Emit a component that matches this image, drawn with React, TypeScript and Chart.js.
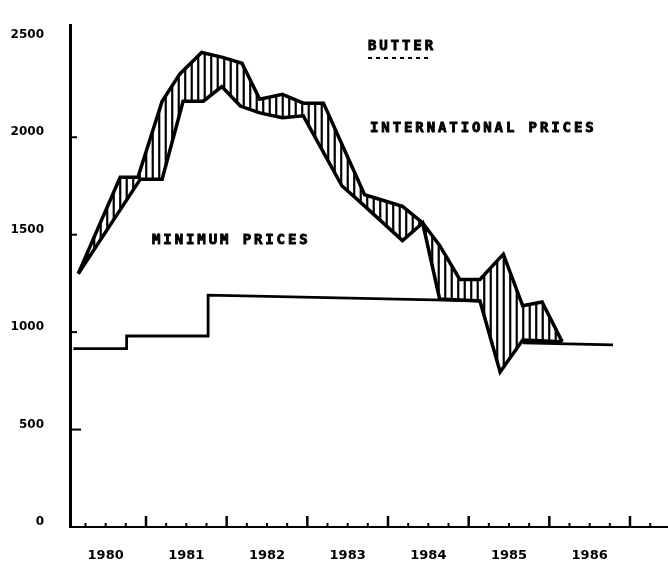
import React, { useEffect, useRef } from "react";
import { Chart, registerables } from "chart.js";

Chart.register(...registerables);

// International prices band: upper and lower bounds (US$/t)
const upperYears = [1980.16, 1980.68, 1980.9, 1981.2, 1981.42, 1981.69, 1981.95, 1982.19, 1982.41, 1982.69, 1982.95, 1983.2, 1983.71, 1984.18, 1984.43, 1984.64, 1984.89, 1985.14, 1985.43, 1985.67, 1985.91, 1986.16];
const upperPrices = [1300, 1795, 1795, 2185, 2325, 2435, 2410, 2380, 2195, 2220, 2175, 2175, 1705, 1645, 1560, 1445, 1270, 1270, 1400, 1135, 1155, 950];
const lowerYears = [1980.16, 1980.93, 1981.2, 1981.46, 1981.71, 1981.94, 1982.17, 1982.41, 1982.69, 1982.95, 1983.43, 1983.65, 1984.18, 1984.43, 1984.64, 1985.14, 1985.39, 1985.67, 1986.16];
const lowerPrices = [1300, 1785, 1785, 2185, 2185, 2260, 2160, 2125, 2100, 2110, 1750, 1670, 1470, 1560, 1170, 1160, 795, 960, 950];

// Minimum prices (step line); null = break
const minYears = [1980.1, 1980.76, 1980.76, 1981.77, 1981.77, 1985.15, 1985.4, 1985.67, 1986.79];
const minPrices: (number | null)[] = [915, 915, 980, 980, 1190, 1160, null, 945, 935];

const yTickValues = [0, 500, 1000, 1500, 2000, 2500];
const yearLabels = ["1980", "1981", "1982", "1983", "1984", "1985", "1986"];
const yearStart = 1980;
const yearEnd = 1987;

const titleText = "BUTTER";
const intlText = "INTERNATIONAL PRICES";
const minText = "MINIMUM PRICES";

function toPoints(xs: number[], ys: (number | null)[]) {
  return xs.map((x, i) => ({ x, y: ys[i] }));
}

function interp(pts: { x: number; y: number }[], x: number): number | null {
  for (let i = 0; i < pts.length - 1; i++) {
    const a = pts[i], b = pts[i + 1];
    if (x >= a.x && x <= b.x) {
      if (b.x === a.x) return a.y;
      return a.y + ((x - a.x) / (b.x - a.x)) * (b.y - a.y);
    }
  }
  return null;
}

const hatchPlugin = {
  id: "hatchBand",
  beforeDatasetsDraw(chart: any) {
    const ctx = chart.ctx;
    const up = chart.getDatasetMeta(0).data.map((p: any) => ({ x: p.x, y: p.y }));
    const lo = chart.getDatasetMeta(1).data.map((p: any) => ({ x: p.x, y: p.y }));
    const x0 = Math.max(up[0].x, lo[0].x);
    const x1 = Math.min(up[up.length - 1].x, lo[lo.length - 1].x);
    ctx.save();
    ctx.strokeStyle = "#000";
    ctx.lineWidth = 2.2;
    for (let x = x0 + 3; x < x1; x += 6.5) {
      const a = interp(up, x);
      const b = interp(lo, x);
      if (a == null || b == null) continue;
      if (Math.abs(a - b) < 2) continue;
      ctx.beginPath();
      ctx.moveTo(x, a);
      ctx.lineTo(x, b);
      ctx.stroke();
    }
    ctx.restore();
  },
};

function heavyText(ctx: any, text: string, x: number, y: number) {
  ctx.fillText(text, x, y);
  ctx.strokeText(text, x, y);
}

const decorPlugin = {
  id: "decor",
  afterDraw(chart: any) {
    const ctx = chart.ctx;
    const xs = chart.scales.x;
    const ys = chart.scales.y;
    const area = chart.chartArea;
    ctx.save();
    ctx.strokeStyle = "#000";
    ctx.fillStyle = "#000";
    // y-axis small ticks
    ctx.lineWidth = 2;
    yTickValues.forEach((v) => {
      if (v === 0 || v === 2500) return;
      const y = ys.getPixelForValue(v);
      ctx.beginPath();
      ctx.moveTo(area.left + 2, y);
      ctx.lineTo(area.left + (v === 500 ? 11 : 7), y);
      ctx.stroke();
    });
    // x-axis quarter / year ticks
    for (let q = yearStart + 0.25; q <= yearEnd + 0.3; q += 0.25) {
      const x = xs.getPixelForValue(q);
      if (x > area.right - 2) continue;
      const isYear = Math.abs(q - Math.round(q)) < 0.01;
      ctx.lineWidth = isYear ? 2.5 : 2;
      ctx.beginPath();
      ctx.moveTo(x, area.bottom);
      ctx.lineTo(x, area.bottom - (isYear ? 11 : 4));
      ctx.stroke();
    }
    // annotations
    ctx.font = "bold 14px 'DejaVu Sans Mono'";
    (ctx as any).letterSpacing = "2.9px";
    ctx.textBaseline = "middle";
    ctx.textAlign = "left";
    ctx.lineWidth = 0.9;
    heavyText(ctx, titleText, 368, 46);
    heavyText(ctx, intlText, 370, 128);
    heavyText(ctx, minText, 152, 240);
    (ctx as any).letterSpacing = "0px";
    ctx.setLineDash([4, 4]);
    ctx.lineWidth = 2;
    ctx.beginPath();
    ctx.moveTo(368, 58);
    ctx.lineTo(432, 58);
    ctx.stroke();
    ctx.restore();
  },
};

export default function App() {
  const ref = useRef<HTMLCanvasElement | null>(null);
  useEffect(() => {
    if (!ref.current) return;
    const chart = new Chart(ref.current, {
      type: "line",
      data: {
        datasets: [
          {
            label: "International prices (upper)",
            data: toPoints(upperYears, upperPrices) as any,
            borderColor: "#000",
            borderWidth: 3.5,
            pointRadius: 0,
            tension: 0,
            fill: false,
          },
          {
            label: "International prices (lower)",
            data: toPoints(lowerYears, lowerPrices) as any,
            borderColor: "#000",
            borderWidth: 3.5,
            pointRadius: 0,
            tension: 0,
            fill: false,
          },
          {
            label: "Minimum prices",
            data: toPoints(minYears, minPrices) as any,
            borderColor: "#000",
            borderWidth: 2.8,
            pointRadius: 0,
            tension: 0,
            spanGaps: false,
            fill: false,
          },
        ],
      },
      options: {
        animation: false,
        responsive: true,
        maintainAspectRatio: false,
        layout: { padding: { top: 12, left: 0, right: 0, bottom: 0 } },
        plugins: { legend: { display: false }, tooltip: { enabled: false }, title: { display: false } },
        scales: {
          x: {
            type: "linear",
            min: 1980.058,
            max: 1987.471,
            grid: { display: false },
            border: { display: true, color: "#000", width: 2 },
            afterFit: (s: any) => {
              s.height = 41;
            },
            afterBuildTicks: (s: any) => {
              s.ticks = yearLabels.map((_, i) => ({ value: yearStart + i + 0.5 }));
            },
            ticks: {
              autoSkip: false,
              maxRotation: 0,
              padding: 13,
              color: "#000",
              font: { family: "'DejaVu Sans'", weight: "bold", size: 13 },
              callback: (v: any) => yearLabels[Math.floor(Number(v)) - yearStart] ?? "",
            },
          },
          y: {
            type: "linear",
            min: 0,
            max: 2575,
            grid: { display: false },
            border: { display: true, color: "#000", width: 3 },
            afterFit: (s: any) => {
              s.width = 70;
            },
            afterBuildTicks: (s: any) => {
              s.ticks = yTickValues.map((v) => ({ value: v }));
            },
            ticks: {
              padding: 18,
              labelOffset: -5,
              color: "#000",
              font: { family: "'DejaVu Sans'", weight: "bold", size: 12 },
              callback: (v: any) => String(v),
            },
          },
        },
      },
      plugins: [hatchPlugin, decorPlugin],
    });
    return () => chart.destroy();
  }, []);
  return (
    <div style={{ position: "fixed", left: 0, top: 0, width: 668, height: 568, background: "#fff" }}>
      <canvas ref={ref} />
    </div>
  );
}
